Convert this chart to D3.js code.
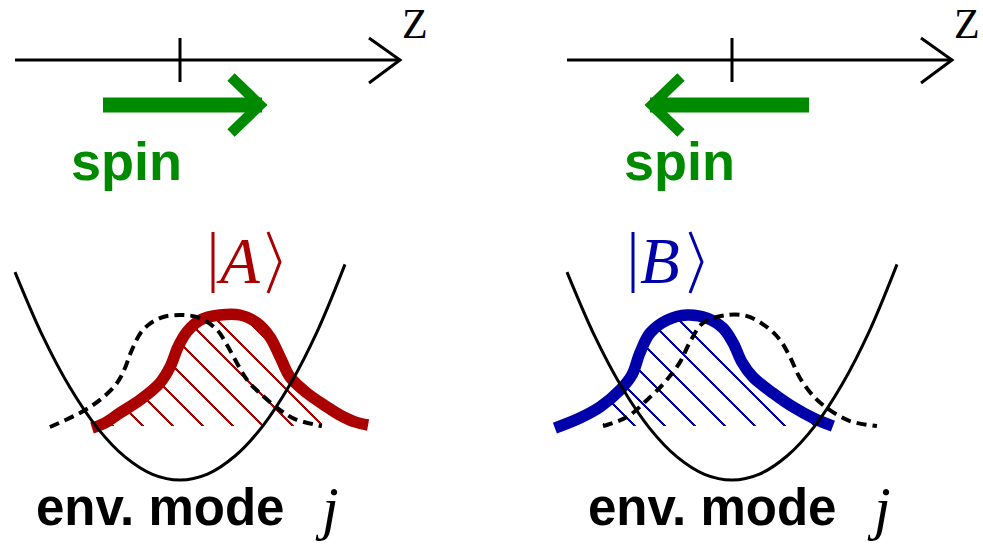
<!DOCTYPE html>
<html>
<head>
<meta charset="utf-8">
<script src="https://cdn.jsdelivr.net/npm/d3@7"></script>
<style>
body { margin: 0; background: #fff; }
svg { display: block; }
</style>
</head>
<body>
<script>
// u = position along z (0 = bottom of the well), v = energy / amplitude

// harmonic well of the environment mode, same in both panels
var wellU = [-6, -5, -4, -3, -2, -1, 0, 1, 2, 3, 4, 5, 6]
var wellV = [0.945, 0.656, 0.420, 0.236, 0.105, 0.026, 0, 0.027, 0.109, 0.244, 0.434, 0.678, 0.98]

// left panel: state |A> and the displaced mode (dashed)
var stateAU = [-3.2, -2.73, -2.18, -1.45, -0.73, -0.36, -0.07, 0.25, 0.73, 1.45, 2.18, 2.8, 3.27, 3.64, 4.0, 4.62, 5.35, 5.82, 6.36, 6.84]
var stateAV = [0.236, 0.259, 0.305, 0.364, 0.441, 0.514, 0.605, 0.673, 0.727, 0.75, 0.75, 0.714, 0.65, 0.559, 0.468, 0.395, 0.332, 0.295, 0.264, 0.25]
var dashAU = [-4.73, -3.64, -2.91, -2.29, -2.0, -1.75, -1.35, -0.73, 0, 0.73, 1.35, 1.71, 2.07, 2.44, 2.98, 3.64, 4.18, 5.16]
var dashAV = [0.241, 0.305, 0.364, 0.441, 0.509, 0.591, 0.682, 0.736, 0.75, 0.736, 0.682, 0.614, 0.532, 0.455, 0.386, 0.318, 0.277, 0.245]

// right panel: state |B> and the displaced mode (dashed)
var stateBU = [-6.44, -5.53, -4.8, -4.07, -3.64, -3.35, -2.98, -2.36, -1.64, -0.91, -0.33, 0.04, 0.36, 0.76, 1.49, 2.22, 2.95, 3.67]
var stateBV = [0.236, 0.282, 0.332, 0.409, 0.477, 0.577, 0.668, 0.727, 0.75, 0.736, 0.691, 0.623, 0.536, 0.468, 0.395, 0.332, 0.282, 0.245]
var dashBU = [-4.69, -3.82, -3.09, -2.44, -1.89, -1.53, -1.05, -0.18, 0.55, 1.27, 1.75, 2.11, 2.47, 3.02, 3.56, 4.29, 5.27]
var dashBV = [0.245, 0.286, 0.364, 0.445, 0.536, 0.627, 0.714, 0.75, 0.745, 0.695, 0.636, 0.559, 0.464, 0.373, 0.318, 0.268, 0.245]

// z axis span and tick, spin arrow span (in u, pointing along +dir)
var axisU = [-6, 8]
var tickU = 0
var spinU = [-2.8, 3.2]
var baseV = 0.245

var labels = {axis: "Z", spin: "spin", env: "env. mode", mode: "j"}
var states = ["A", "B"]

var W = 983, H = 548
var svg = d3.select("body").append("svg")
  .attr("width", W)
  .attr("height", H)

svg.append("rect").attr("width", W).attr("height", H).attr("fill", "#fff")

var y = d3.scaleLinear().domain([0, 1]).range([480, 260])

var panels = [
  {xc: 180, dir: 1, color: "#aa0000", name: states[0], su: stateAU, sv: stateAV, du: dashAU, dv: dashAV, ket: 213, hatch0: 143},
  {xc: 732, dir: -1, color: "#0000aa", name: states[1], su: stateBU, sv: stateBV, du: dashBU, dv: dashBV, ket: 633, hatch0: 605}
]

var green = "#008a00"
var axisY = 60, spinY = 105

panels.forEach(function(p, pi){
  var x = d3.scaleLinear().domain([-6, 6]).range([p.xc - 165, p.xc + 165])
  var g = svg.append("g")

  // z axis
  g.append("line")
    .attr("x1", x(axisU[0])).attr("x2", x(axisU[1]))
    .attr("y1", axisY).attr("y2", axisY)
    .attr("stroke", "#000").attr("stroke-width", 3)
  var tipX = x(axisU[1])
  g.append("path")
    .attr("d", "M" + (tipX - 31) + "," + (axisY - 22) + "L" + tipX + "," + axisY + "L" + (tipX - 31) + "," + (axisY + 23))
    .attr("fill", "none").attr("stroke", "#000").attr("stroke-width", 3)
  g.append("line")
    .attr("x1", x(tickU)).attr("x2", x(tickU))
    .attr("y1", axisY - 22).attr("y2", axisY + 22)
    .attr("stroke", "#000").attr("stroke-width", 3)
  g.append("text")
    .attr("x", tipX + 2).attr("y", 38)
    .attr("font-family", "Liberation Serif, Times New Roman, serif")
    .attr("font-size", 42)
    .text(labels.axis)

  // spin arrow
  var s0 = x(p.dir * spinU[0]), s1 = x(p.dir * spinU[1])
  g.append("line")
    .attr("x1", s0).attr("x2", s1 - p.dir * 6)
    .attr("y1", spinY).attr("y2", spinY)
    .attr("stroke", green).attr("stroke-width", 15)
  var pt = s1 - p.dir * 8, pa = s1 - p.dir * 37
  g.append("path")
    .attr("d", "M" + pa + "," + (spinY - 28) + "L" + pt + "," + spinY + "L" + pa + "," + (spinY + 28))
    .attr("fill", "none").attr("stroke", green).attr("stroke-width", 10.5)
    .attr("stroke-linejoin", "miter")
  g.append("text")
    .attr("x", pi === 0 ? 71 : 624).attr("y", 180)
    .attr("font-family", "Liberation Sans, Arial, sans-serif")
    .attr("font-weight", "bold")
    .attr("font-size", 54)
    .attr("fill", green)
    .text(labels.spin)

  var state = p.su.map(function(u, i){ return [u, p.sv[i]] })
  var dash = p.du.map(function(u, i){ return [u, p.dv[i]] })
  var well = wellU.map(function(u, i){ return [u, wellV[i]] })

  var line = d3.line()
    .x(function(d){ return x(d[0]) })
    .y(function(d){ return y(d[1]) })
    .curve(d3.curveCatmullRom.alpha(0.5))
  var area = d3.area()
    .x(function(d){ return x(d[0]) })
    .y0(y(baseV))
    .y1(function(d){ return y(d[1]) })
    .curve(d3.curveCatmullRom.alpha(0.5))

  // hatched overlap: under the state, within the span of the dashed mode
  var defs = svg.append("defs")
  defs.append("clipPath").attr("id", "span" + pi)
    .append("rect")
    .attr("x", x(p.du[0])).attr("width", x(p.du[p.du.length - 1]) - x(p.du[0]))
    .attr("y", 0).attr("height", H)
  defs.append("clipPath").attr("id", "under" + pi)
    .append("path").attr("d", area(state))

  var hatch = g.append("g").attr("clip-path", "url(#span" + pi + ")")
    .append("g").attr("clip-path", "url(#under" + pi + ")")
  var yb = y(baseV)
  hatch.selectAll("line")
    .data(d3.range(-6, 14))
    .enter()
    .append("line")
    .attr("x1", function(k){ return p.hatch0 + 30 * k - 180 })
    .attr("y1", yb - 180)
    .attr("x2", function(k){ return p.hatch0 + 30 * k + 4 })
    .attr("y2", yb + 4)
    .attr("stroke", p.color)
    .attr("stroke-width", 1.6)
    .attr("shape-rendering", "crispEdges")

  g.append("path")
    .attr("d", line(state))
    .attr("fill", "none").attr("stroke", p.color).attr("stroke-width", 11.5)

  g.append("path")
    .attr("d", line(dash))
    .attr("fill", "none").attr("stroke", "#000").attr("stroke-width", 4)
    .attr("stroke-dasharray", "10 6")

  g.append("path")
    .attr("d", line(well))
    .attr("fill", "none").attr("stroke", "#000").attr("stroke-width", 3)

  // ket label
  var k = g.append("g").attr("fill", p.color).attr("stroke", p.color)
  k.append("line")
    .attr("x1", p.ket).attr("x2", p.ket).attr("y1", 232).attr("y2", 293)
    .attr("stroke-width", 3)
  k.append("text")
    .attr("x", p.ket + 7).attr("y", 283)
    .attr("stroke", "none")
    .attr("font-family", "Liberation Serif, Times New Roman, serif")
    .attr("font-style", "italic")
    .attr("font-size", 65)
    .text(p.name)
  var bx = p.ket + (pi === 0 ? 55 : 57)
  k.append("path")
    .attr("d", "M" + bx + ",232L" + (bx + 12) + ",262L" + bx + ",293")
    .attr("fill", "none").attr("stroke-width", 3)

  // caption
  g.append("text")
    .attr("x", pi === 0 ? 36 : 588).attr("y", 525)
    .attr("font-family", "Liberation Sans, Arial, sans-serif")
    .attr("font-weight", "bold")
    .attr("font-size", 51)
    .text(labels.env)
  g.append("text")
    .attr("x", pi === 0 ? 322 : 874).attr("y", 528)
    .attr("font-family", "Liberation Serif, Times New Roman, serif")
    .attr("font-style", "italic")
    .attr("font-size", 60)
    .text(labels.mode)
})
</script>
</body>
</html>
